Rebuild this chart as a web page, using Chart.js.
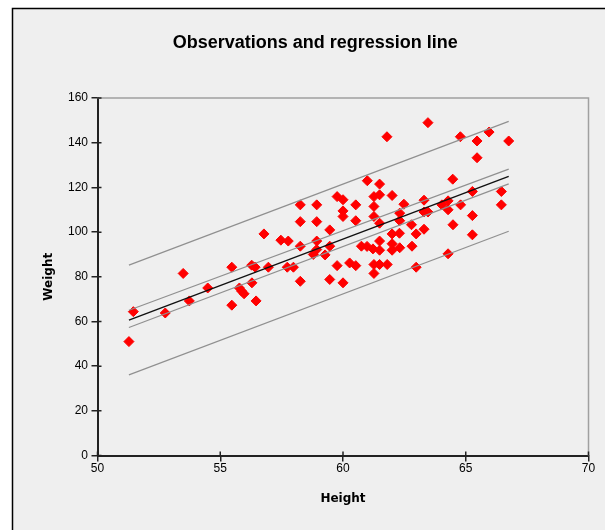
<!DOCTYPE html>
<html>
<head>
<meta charset="utf-8">
<script src="https://cdn.jsdelivr.net/npm/chart.js@4/dist/chart.umd.min.js"></script>
<style>
html,body{margin:0;padding:0;background:#fff;}
#wrap{position:absolute;left:0;top:0;width:605px;height:530px;}
</style>
</head>
<body>
<div id="wrap"><canvas id="c" width="605" height="530"></canvas></div>
<script>
// ---- data ----
const heights = [51.28,51.46,52.76,53.49,53.74,54.49,55.47,55.47,55.78,55.87,55.97,56.28,56.42,56.29,56.46,56.78,56.96,57.47,57.77,57.73,57.98,58.26,58.26,58.26,58.93,58.26,58.93,58.93,58.79,58.93,59.27,59.46,59.46,59.46,59.76,60.0,60.0,60.0,59.76,60.0,60.27,60.52,60.52,60.52,60.75,60.99,60.98,61.22,61.26,61.26,61.26,61.49,61.49,61.49,61.49,61.49,61.26,61.49,61.80,61.26,61.79,62.0,62.0,62.30,62.0,62.31,62.0,62.31,62.31,62.48,62.79,62.81,62.98,62.98,63.30,63.30,63.46,63.30,63.46,64.03,64.28,64.28,64.28,64.47,64.48,64.78,64.79,65.27,65.27,65.27,65.46,65.46,65.95,66.45,66.45,66.75];
const weights = [51.0,64.4,63.8,81.5,69.2,75.0,84.3,67.3,75.0,73.6,72.4,85.2,84.3,77.3,69.2,99.2,84.3,96.4,96.0,84.3,84.3,93.7,78.0,112.2,112.2,104.7,104.7,96.0,90.0,92.2,89.8,101.0,93.7,78.8,115.9,114.5,109.5,107.0,85.0,77.3,86.2,85.0,112.2,105.1,93.7,123.0,93.6,92.5,115.9,111.5,107.0,121.5,116.7,104.0,96.0,91.9,85.5,85.5,85.5,81.5,142.7,116.4,99.2,99.5,91.9,93.0,94.8,108.5,105.1,112.5,103.3,93.7,99.2,84.3,114.3,109.0,109.0,101.3,149.0,112.2,114.0,110.0,90.3,123.7,103.3,142.7,112.2,118.2,107.4,98.8,140.8,133.3,144.8,118.2,112.2,140.8];
const lineX = [51.28, 66.75];
const regY = [60.6, 125.0];
const ciUpperY = [65.0, 128.2];
const ciLowerY = [57.3, 121.6];
const piUpperY = [85.2, 149.6];
const piLowerY = [36.1, 100.4];
const xTicks = [50, 55, 60, 65, 70];
const yTicks = [0, 20, 40, 60, 80, 100, 120, 140, 160];
const titleText = 'Observations and regression line';
const xTitle = 'Height';
const yTitle = 'Weight';

const pts = heights.map((h, i) => ({x: h, y: weights[i]}));
const mk = ys => lineX.map((x, i) => ({x: x, y: ys[i]}));

const FONT = "'Liberation Sans', Arial, sans-serif";
const FONT2 = "'DejaVu Sans', Verdana, sans-serif";

const framePlugin = {
  id: 'frame',
  beforeDraw(chart) {
    const ctx = chart.ctx;
    ctx.save();
    ctx.fillStyle = '#ffffff';
    ctx.fillRect(0, 0, chart.width, chart.height);
    ctx.fillStyle = '#efefef';
    ctx.fillRect(12, 8, chart.width, chart.height);
    ctx.strokeStyle = '#000';
    ctx.lineWidth = 1.5;
    ctx.beginPath();
    ctx.moveTo(12.5, chart.height);
    ctx.lineTo(12.5, 8.5);
    ctx.lineTo(chart.width, 8.5);
    ctx.stroke();
    ctx.restore();
  },
  beforeDatasetsDraw(chart) {
    const {ctx, chartArea: a} = chart;
    ctx.save();
    ctx.strokeStyle = '#a0a0a0';
    ctx.lineWidth = 1.5;
    ctx.beginPath();
    ctx.moveTo(a.left, a.top);
    ctx.lineTo(a.right, a.top);
    ctx.lineTo(a.right, a.bottom);
    ctx.stroke();
    ctx.restore();
  },
  afterDraw(chart) {
    const {ctx, chartArea: a, scales} = chart;
    ctx.save();
    ctx.strokeStyle = '#222';
    ctx.lineWidth = 1.5;
    ctx.beginPath();
    xTicks.forEach(v => {
      const px = scales.x.getPixelForValue(v);
      ctx.moveTo(px, a.bottom);
      ctx.lineTo(px, a.bottom - 4);
    });
    yTicks.forEach(v => {
      const py = scales.y.getPixelForValue(v);
      ctx.moveTo(a.left, py);
      ctx.lineTo(a.left + 4, py);
    });
    ctx.stroke();
    ctx.restore();
  }
};

const lineDs = (data, color, w) => ({
  type: 'scatter', data: data, showLine: true, borderColor: color, borderWidth: w,
  pointRadius: 0, fill: false, tension: 0
});

new Chart(document.getElementById('c'), {
  type: 'scatter',
  data: {
    datasets: [
      lineDs(mk(piUpperY), '#909090', 1.2),
      lineDs(mk(piLowerY), '#909090', 1.2),
      lineDs(mk(ciUpperY), '#909090', 1.2),
      lineDs(mk(ciLowerY), '#909090', 1.2),
      lineDs(mk(regY), '#111111', 1.4),
      {
        data: pts, pointStyle: 'rectRot', pointRadius: 5, pointHoverRadius: 5,
        backgroundColor: '#ff0000', borderColor: '#ff0000', borderWidth: 1, showLine: false
      }
    ]
  },
  options: {
    responsive: false,
    animation: false,
    devicePixelRatio: 1,
    layout: {padding: {left: 42, right: 16.5, top: 0, bottom: 0}},
    plugins: {
      legend: {display: false},
      tooltip: {enabled: false},
      title: {
        display: true, text: titleText, color: '#000',
        font: {family: FONT, size: 18, weight: 'bold'},
        padding: {top: 32.5, bottom: 44}
      }
    },
    scales: {
      x: {
        type: 'linear', min: 50, max: 70,
        afterFit: s => { s.height = 74.5; },
        afterBuildTicks: s => { s.ticks = xTicks.map(v => ({value: v})); },
        ticks: {color: '#000', font: {family: FONT, size: 12}, padding: 0, maxRotation: 0},
        grid: {display: true, drawOnChartArea: false, drawTicks: true, tickLength: 6, color: '#222', lineWidth: 1.5},
        border: {display: true, color: '#222', width: 2},
        title: {display: true, text: xTitle, color: '#000', font: {family: FONT2, size: 12, weight: 'bold'}, padding: {top: 0, bottom: 23.8}}
      },
      y: {
        type: 'linear', min: 0, max: 160,
        afterFit: s => { s.width = 55.5; },
        afterBuildTicks: s => { s.ticks = yTicks.map(v => ({value: v})); },
        ticks: {color: '#000', font: {family: FONT, size: 12}, padding: 3.5},
        grid: {display: true, drawOnChartArea: false, drawTicks: true, tickLength: 6, color: '#222', lineWidth: 1.5},
        border: {display: true, color: '#222', width: 2},
        title: {display: true, text: yTitle, color: '#000', font: {family: FONT2, size: 12, weight: 'bold'}, padding: {top: 0, bottom: 0}}
      }
    }
  },
  plugins: [framePlugin]
});
</script>
</body>
</html>
